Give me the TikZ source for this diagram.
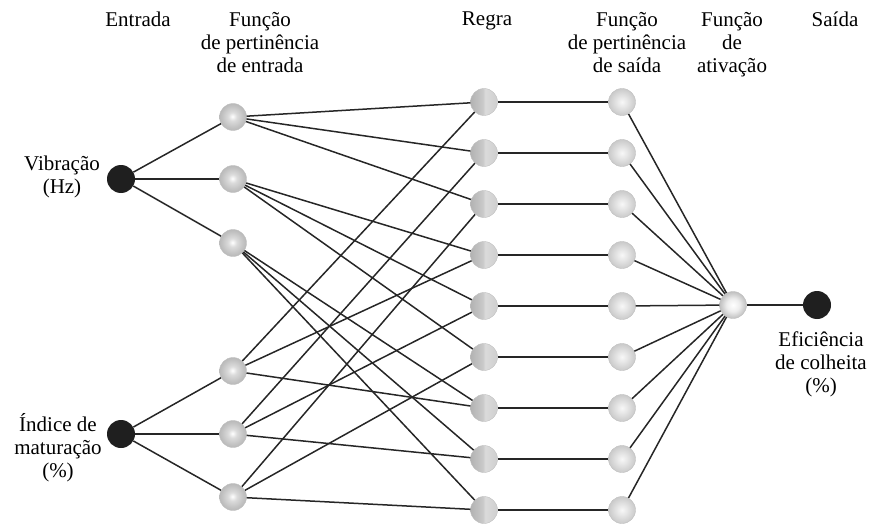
\documentclass[tikz,border=0pt]{standalone}
\usepackage{fontspec}
\setmainfont{Liberation Serif}
\usepackage{tikz}
\usetikzlibrary{positioning,calc}

% sombreamentos dos nos
\pgfdeclareradialshading{mfinball}{\pgfpoint{-1bp}{1bp}}{color(0bp)=(white); color(8bp)=(gray!28); color(20bp)=(gray!48); color(25bp)=(gray!55); color(50bp)=(gray!55)}
\pgfdeclareradialshading{mfoutball}{\pgfpoint{0bp}{0bp}}{color(0bp)=(gray!6); color(10bp)=(gray!20); color(25bp)=(gray!42); color(50bp)=(gray!42)}
\pgfdeclareradialshading{actball}{\pgfpoint{0bp}{0bp}}{color(0bp)=(white); color(12bp)=(gray!14); color(25bp)=(gray!50); color(50bp)=(gray!50)}
\pgfdeclarehorizontalshading{rulehalf}{100bp}{color(0bp)=(gray!62); color(25bp)=(gray!60); color(48bp)=(gray!42); color(52bp)=(gray!28); color(75bp)=(gray!38); color(100bp)=(gray!38)}

\tikzset{
  ball/.style={circle, inner sep=0pt, minimum size=27pt, draw=gray!50, line width=0.4pt},
  innode/.style={circle, inner sep=0pt, minimum size=28pt, fill=black!88},
  mfin/.style={ball, shading=mfinball},
  mfout/.style={ball, shading=mfoutball},
  rulenode/.style={ball, shading=rulehalf},
  actnode/.style={ball, shading=actball},
  lbl/.style={align=center, inner sep=0pt, anchor=north, font=\fontsize{21}{23}\selectfont},
  link/.style={line width=1.5pt, black!85}
}

\begin{document}
\begin{tikzpicture}[x=1pt,y=-1pt]
\useasboundingbox (0,0) rectangle (872,524);

% Entradas e saida
\node[innode] (vib) at (121,179) {};
\node[innode] (mat) at (121,434) {};
\node[innode] (out) at (817,305) {};

% Funcoes de pertinencia de entrada
\foreach \i/\y in {1/117,2/179,3/243}
  \node[mfin] (mv\i) at (233,\y) {};
\foreach \i/\y in {1/371,2/434,3/497}
  \node[mfin] (mm\i) at (233,\y) {};

% Regras e funcoes de pertinencia de saida
\foreach \k in {1,...,9} {
  \pgfmathsetmacro\y{102+51*(\k-1)}
  \node[rulenode] (r\k) at (484,\y) {};
  \node[mfout] (o\k) at (622,\y) {};
}
\node[actnode] (act) at (733,305) {};

% Ligacoes
\foreach \i in {1,2,3} {
  \draw[link] (vib) -- (mv\i);
  \draw[link] (mat) -- (mm\i);
}
\foreach \i in {1,2,3}
  \foreach \j in {1,2,3} {
    \pgfmathtruncatemacro\k{3*(\i-1)+\j}
    \draw[link] (mv\i) -- (r\k);
    \draw[link] (mm\j) -- (r\k);
  }
\foreach \k in {1,...,9} {
  \draw[link] (r\k) -- (o\k);
  \draw[link] (o\k) -- (act);
}
\draw[link] (act) -- (out);

% Titulos das camadas
\node[lbl] (tent) at (138,12) {Entrada};
\node[lbl] (tmfin) at (260,12) {Função\\de pertinência\\de entrada};
\node[lbl] (trule) at (487,12) {Regra};
\node[lbl] (tmfout) at (627,12) {Função\\de pertinência\\de saída};
\node[lbl] (tact) at (732,12) {Função\\de\\ativação};
\node[lbl] (tsai) at (835,12) {Saída};

% Rotulos das variaveis
\node[lbl] (lvib) at (62,156) {Vibração\\(Hz)};
\node[lbl] (lmat) at (58,413) {Índice de\\maturação\\(\%)};
\node[lbl] (lout) at (821,332) {Eficiência\\de colheita\\(\%)};
\end{tikzpicture}
\end{document}
